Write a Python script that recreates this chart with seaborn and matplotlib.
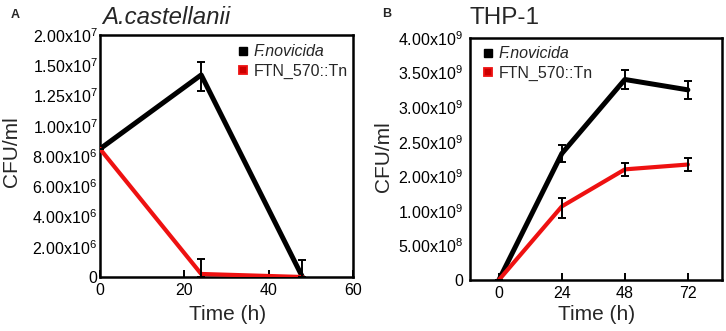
import numpy as np
import pandas as pd
import matplotlib
matplotlib.use("Agg")
import matplotlib.pyplot as plt
from matplotlib.lines import Line2D
import seaborn as sns

# ---------------- data ----------------
strains = ["F.novicida", "FTN_570::Tn"]

a_time = [0, 24, 48]
a_wt = [8.47e6, 1.42e7, 0.0]
a_wt_err = [0.0, 1.3e6, 1.1e6]
a_mut = [8.47e6, 2.0e5, 0.0]
a_mut_err = [0.0, 1.0e6, 0.0]

b_time = [0, 24, 48, 72]
b_wt = [0.0, 2.33e9, 3.40e9, 3.25e9]
b_wt_err = [0.0, 1.2e8, 1.4e8, 1.3e8]
b_mut = [0.0, 1.13e9, 2.10e9, 2.17e9]
b_mut_err = [0.0, 2.3e8, 9.0e7, 9.0e7]

a_yticks = [0, 2e6, 4e6, 6e6, 8e6, 1e7, 1.25e7, 1.5e7, 2e7]
a_ylabels = ["0", "2.00x10$^{6}$", "4.00x10$^{6}$", "6.00x10$^{6}$", "8.00x10$^{6}$",
             "1.00x10$^{7}$", "1.25x10$^{7}$", "1.50x10$^{7}$", "2.00x10$^{7}$"]
a_xticks = [0, 20, 40, 60]

b_yticks = [0, 5e8, 1e9, 2e9, 2.5e9, 3e9, 3.5e9, 4e9]
b_ylabels = ["0", "5.00x10$^{8}$", "1.00x10$^{9}$", "2.00x10$^{9}$", "2.50x10$^{9}$",
             "3.00x10$^{9}$", "3.50x10$^{9}$", "4.00x10$^{9}$"]
b_xticks = [0, 24, 48, 72]

# segmented axis knots (value -> evenly spaced label position)
a_knots_v = [0, 1e7, 1.5e7, 2e7]
a_knots_p = [0, 5, 7, 8]
b_knots_v = [0, 1e9, 2e9, 4e9]
b_knots_p = [0, 2, 3, 7]

BLACK = "#000000"
RED = "#ee1111"

# ---------------- style ----------------
sns.set_theme(style="white")
plt.rcParams["font.family"] = ["Liberation Sans", "DejaVu Sans"]
plt.rcParams["mathtext.fontset"] = "custom"
plt.rcParams["mathtext.rm"] = "Liberation Sans"
plt.rcParams["mathtext.it"] = "Liberation Sans:italic"

W, H = 726, 331
fig = plt.figure(figsize=(W / 100, H / 100), dpi=100)


def px_axes(l, t, r, b):
    return fig.add_axes([l / W, 1 - b / H, (r - l) / W, (b - t) / H])


axA = px_axes(100, 35, 353, 277)
axB = px_axes(470, 38, 722, 280)


def seg_scale(ax, kv, kp):
    kv = np.array(kv, float)
    kp = np.array(kp, float)
    fwd = lambda y: np.interp(y, kv, kp)
    inv = lambda p: np.interp(p, kp, kv)
    ax.set_yscale("function", functions=(fwd, inv))


def draw_panel(ax, t, wt, wt_e, mut, mut_e, knots_v, knots_p, yticks, ylabels,
               xticks, xlim, ylim, ypad, legend_loc, legend_anchor):
    seg_scale(ax, knots_v, knots_p)
    df = pd.DataFrame({
        "Time": list(t) * 2,
        "CFU": list(wt) + list(mut),
        "Strain": [strains[0]] * len(t) + [strains[1]] * len(t),
    })
    sns.lineplot(data=df[df.Strain == strains[0]], x="Time", y="CFU",
                 color=BLACK, lw=3.6, ax=ax, legend=False, zorder=3)
    sns.lineplot(data=df[df.Strain == strains[1]], x="Time", y="CFU",
                 color=RED, lw=3.0, ax=ax, legend=False, zorder=4)
    ax.errorbar(t, wt, yerr=wt_e, fmt="none", ecolor="black", elinewidth=1.4,
                capsize=3, capthick=1.4, zorder=5)
    ax.errorbar(t, mut, yerr=mut_e, fmt="none", ecolor="black", elinewidth=1.4,
                capsize=3, capthick=1.4, zorder=5)
    ax.set_xlim(*xlim)
    ax.set_ylim(*ylim)
    ax.set_xticks(xticks)
    ax.set_xticklabels([str(x) for x in xticks])
    ax.set_yticks(yticks)
    ax.set_yticklabels(ylabels)
    ax.minorticks_off()
    ax.tick_params(axis="x", direction="in", length=5, width=1.4, color="black",
                   labelsize=11.5, pad=4, labelcolor="black", bottom=True)
    ax.tick_params(axis="y", length=0, labelsize=11.5, pad=ypad, labelcolor="black")
    for s in ax.spines.values():
        s.set_visible(True)
        s.set_color("black")
        s.set_linewidth(1.8)
    ax.set_xlabel("")
    ax.set_ylabel("")
    ax.grid(False)
    handles = [
        Line2D([], [], marker="s", linestyle="none", markersize=5.5,
               markerfacecolor=BLACK, markeredgecolor=BLACK),
        Line2D([], [], marker="s", linestyle="none", markersize=5.5,
               markerfacecolor="#cc0000", markeredgecolor=RED, markeredgewidth=1.3),
    ]
    leg = ax.legend(handles, strains, loc=legend_loc, bbox_to_anchor=legend_anchor,
                    frameon=False, fontsize=11.5, handlelength=0.6, handletextpad=0.35,
                    labelspacing=0.25, borderaxespad=0)
    leg.get_texts()[0].set_fontstyle("italic")


draw_panel(axA, a_time, a_wt, a_wt_err, a_mut, a_mut_err, a_knots_v, a_knots_p,
           a_yticks, a_ylabels, a_xticks, (0, 60), (0, 2e7), 2,
           "upper left", ((232 - 100) / 253, 1 - (38 - 35) / 242))
draw_panel(axB, b_time, b_wt, b_wt_err, b_mut, b_mut_err, b_knots_v, b_knots_p,
           b_yticks, b_ylabels, b_xticks, (-11, 85), (0, 4e9), 5,
           "upper left", ((477 - 470) / 252, 1 - (40 - 38) / 242))

# titles, panel letters, axis labels
fig.text(102 / W, 1 - 17 / H, "A.castellanii", fontsize=17.3, fontstyle="italic",
         ha="left", va="center")
fig.text(470 / W, 1 - 18 / H, "THP-1", fontsize=17.5, ha="left", va="center")
fig.text(15 / W, 1 - 15 / H, "A", fontsize=9, fontweight="bold", ha="center", va="center")
fig.text(387 / W, 1 - 14 / H, "B", fontsize=9, fontweight="bold", ha="center", va="center")
fig.text(12 / W, 1 - 152 / H, "CFU/ml", fontsize=15, rotation=90, ha="center", va="center")
fig.text(384 / W, 1 - 157 / H, "CFU/ml", fontsize=15, rotation=90, ha="center", va="center")
fig.text(228 / W, 1 - 314 / H, "Time (h)", fontsize=15, ha="center", va="center")
fig.text(597 / W, 1 - 315 / H, "Time (h)", fontsize=15, ha="center", va="center")

fig.savefig("out.png", dpi=100, facecolor="white")
